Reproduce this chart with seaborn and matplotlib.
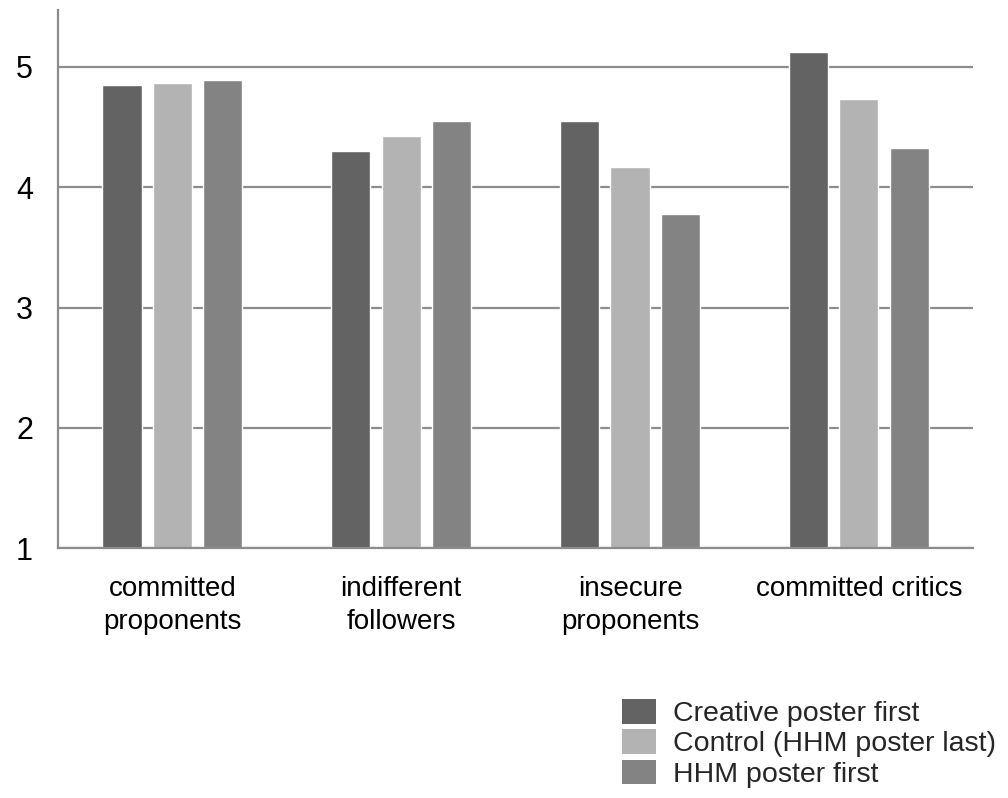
import numpy as np
import pandas as pd
import matplotlib
matplotlib.use("Agg")
import matplotlib.pyplot as plt
import seaborn as sns
from matplotlib.patches import Patch

categories = ["committed\nproponents", "indifferent\nfollowers", "insecure\nproponents", "committed critics"]
series = ["Creative poster first", "Control (HHM poster last)", "HHM poster first"]
creative_first = [4.85, 4.30, 4.55, 5.12]
control_last = [4.87, 4.43, 4.17, 4.73]
hhm_first = [4.89, 4.55, 3.78, 4.33]
colors = ["#636363", "#b3b3b3", "#838383"]

df = pd.DataFrame({
    "group": categories * 3,
    "condition": [s for s in series for _ in categories],
    "score": creative_first + control_last + hhm_first,
})

sns.set_style("white")
plt.rcParams["font.family"] = ["Liberation Sans", "DejaVu Sans"]

fig = plt.figure(figsize=(10.08, 7.98), dpi=100)
ax = fig.add_axes([0.0575, 0.313, 0.908, 0.674])

# bars start at the axis floor (1), not zero
sns.barplot(data=df, x="group", y="score", hue="condition", palette=colors,
            width=0.66, gap=0.22, ax=ax, legend=False, saturation=1)
for p in ax.patches:
    h = p.get_height()
    p.set_y(1)
    p.set_height(h - 1)

ax.set_ylim(1, 5.47)
ax.set_xlim(-0.5, 3.5)
ax.set_yticks([1, 2, 3, 4, 5])
ax.set_xlabel("")
ax.set_ylabel("")
ax.set_axisbelow(True)
ax.yaxis.grid(True, color="#8c8c8c", linewidth=1.6)
ax.xaxis.grid(False)
for s in ["top", "right"]:
    ax.spines[s].set_visible(False)
for s in ["left", "bottom"]:
    ax.spines[s].set_color("#8c8c8c")
    ax.spines[s].set_linewidth(1.6)
ax.tick_params(axis="both", length=0, colors="black")
ax.tick_params(axis="y", pad=18, labelsize=22)
ax.tick_params(axis="x", pad=20, labelsize=20)
for t in ax.get_xticklabels():
    t.set_linespacing(1.35)

handles = [Patch(facecolor=c, edgecolor="none") for c in colors]
fig.legend(handles, series, loc="upper left", bbox_to_anchor=(0.617, 0.124),
           frameon=False, fontsize=20.5, handlelength=1.2, handleheight=0.95,
           labelspacing=0.08, handletextpad=0.6, borderpad=0, borderaxespad=0)

fig.savefig("out.png", dpi=100)
